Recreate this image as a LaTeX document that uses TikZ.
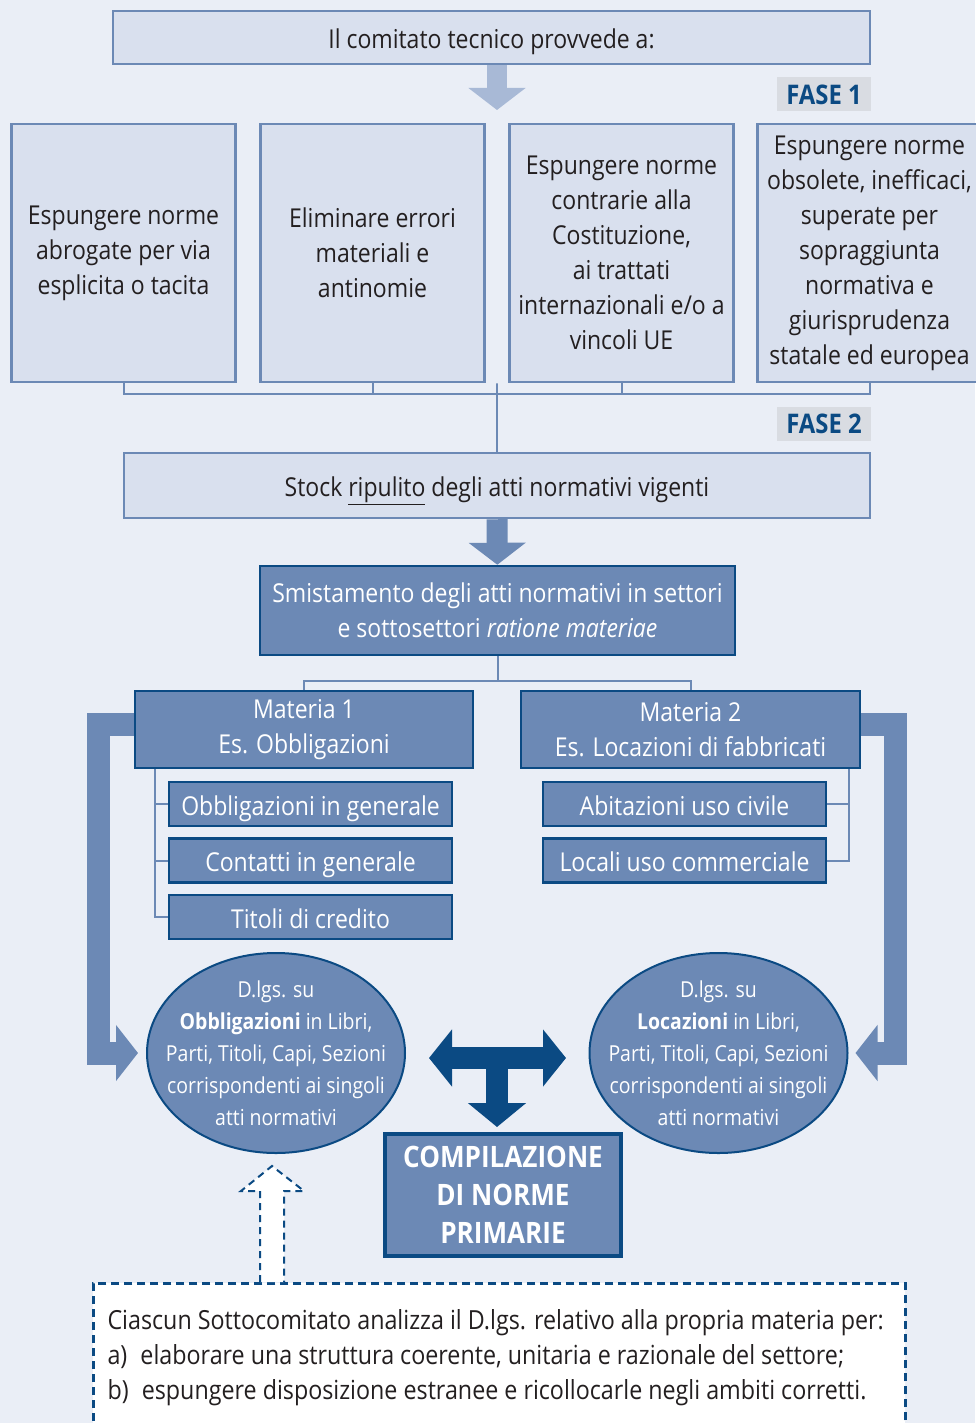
\documentclass[tikz,border=0pt]{standalone}
\usepackage{fontspec}
\setmainfont{Open Sans}[FakeStretch=0.885]
\usetikzlibrary{arrows.meta, positioning, calc, shapes.geometric}
\definecolor{cbg}{HTML}{EAEEF6}
\definecolor{clight}{HTML}{D9E0EE}
\definecolor{cmid}{HTML}{6C89B5}
\definecolor{cdark}{HTML}{0B4A83}
\definecolor{cpale}{HTML}{A8B9D6}
\definecolor{cgrey}{HTML}{D9DCE2}
\definecolor{ctext}{HTML}{231F20}
\tikzset{
  every picture/.style={x=1pt, y=-1pt},
  lightbox/.style={draw=cmid, fill=clight, line width=2.5pt, text=ctext, align=center, inner sep=4pt,
    font=\fontsize{26}{35}\selectfont},
  darkbox/.style={draw=cdark, fill=cmid, line width=2.5pt, text=white, align=center, inner sep=4pt,
    font=\fontsize{26}{35}\selectfont},
  oneline/.style={text height=28pt, text depth=6pt},
  subbox/.style={darkbox, oneline, minimum width=283pt, minimum height=44pt},
  blob/.style={ellipse, draw=cdark, fill=cmid, line width=2pt, inner sep=0pt,
    minimum width=258pt, minimum height=200pt},
  blobtext/.style={text=white, align=center, inner sep=0pt, font=\fontsize{22}{32}\selectfont},
  fase/.style={fill=cgrey, text=cdark, font=\fontsize{27}{30}\selectfont\bfseries, minimum width=94pt, minimum height=34pt},
  link/.style={draw=cmid, line width=2pt},
  palearrow/.style={-{Triangle[width=56pt, length=22pt]}, draw=cpale, line width=20pt},
  midarrow/.style={-{Triangle[width=56pt, length=22pt]}, draw=cmid, line width=21pt},
  bigarrow/.style={-{Triangle[width=55pt, length=22pt]}, draw=cmid, line width=23pt, line join=miter},
  tarrow/.style={{Triangle[width=56pt, length=23pt]}-{Triangle[width=56pt, length=23pt]}, draw=cdark, line width=22pt},
  stemarrow/.style={-{Triangle[width=57pt, length=24pt]}, draw=cdark, line width=22pt},
}

\begin{document}
\begin{tikzpicture}
  \useasboundingbox (0,0) rectangle (975,1423);
  \fill[cbg] (0,0) rectangle (975,1423);

  % fase 1
  \node[lightbox, oneline, minimum width=757pt, minimum height=53pt] (top) at (491.5,37.5) {Il comitato tecnico provvede a:};
  \node[fase] (fase1) at (824,94.5) {FASE 1};
  \coordinate (split) at (497,110);
  \draw[palearrow] (top.south -| split) -- (split);

  \node[lightbox, minimum width=224pt, minimum height=258pt] (b1) at (123.5,253) {Espungere norme\\abrogate per via\\esplicita o tacita};
  \node[lightbox, minimum width=224pt, minimum height=258pt, right=22.5pt of b1] (b2) {Eliminare errori\\materiali e\\antinomie};
  \node[lightbox, minimum width=224pt, minimum height=258pt, right=22.5pt of b2] (b3) {Espungere norme\\contrarie alla\\Costituzione,\\ai trattati\\internazionali e/o a\\vincoli UE};
  \node[lightbox, minimum width=224pt, minimum height=258pt, right=21.5pt of b3] (b4) {Espungere norme\\obsolete, inefficaci,\\superate per\\sopraggiunta\\normativa e\\giurisprudenza\\statale ed europea};

  \draw[link] (b1.south) -- ++(0,11) -| (b4.south);
  \draw[link] (b2.south) -- ++(0,11);
  \draw[link] (b3.south) -- ++(0,11);

  % fase 2
  \node[fase] (fase2) at (824,424) {FASE 2};
  \node[lightbox, oneline, minimum width=746pt, minimum height=65pt] (stock) at (497,485.5) {Stock \underline{ripulito} degli atti normativi vigenti};
  \draw[link] (stock.north) -- (stock.north |- b1.south) -- ++(0,11);

  \node[darkbox, minimum width=475pt, minimum height=89pt] (smist) at (497.5,610.5) {Smistamento degli atti normativi in settori\\e sottosettori \textit{ratione materiae}};
  \draw[midarrow] (stock) -- (smist);

  \node[darkbox, minimum width=338pt, minimum height=77pt] (m1) at (304,729.5) {Materia 1\\Es. Obbligazioni};
  \node[darkbox, minimum width=339pt, minimum height=77pt] (m2) at (690.5,729.5) {Materia 2\\Es. Locazioni di fabbricati};
  \draw[link] (smist.south) -- ++(0,25) coordinate (mj);
  \draw[link] (m1.north) |- (mj) -| (m2.north);

  \node[subbox] (s1) at (310.5,804) {Obbligazioni in generale};
  \node[subbox, below=10pt of s1] (s2) {Contatti in generale};
  \node[subbox, below=10pt of s2] (s3) {Titoli di credito};
  \draw[link] (s3.west) -| ([xshift=21pt]m1.south west);
  \draw[link] (s1.west) -- ++(-13,0);
  \draw[link] (s2.west) -- ++(-13,0);

  \node[subbox] (s4) at (684.5,804) {Abitazioni uso civile};
  \node[subbox, below=10pt of s4] (s5) {Locali uso commerciale};
  \draw[link] (s5.east) -| ([xshift=-12pt]m2.south east);
  \draw[link] (s4.east) -- ++(22,0);

  % decreti
  \node[blob] (e1) at (276,1053) {};
  \node[blobtext] (e1t) at (e1) {D.lgs. su\\\textbf{Obbligazioni} in Libri,\\Parti, Titoli, Capi, Sezioni\\corrispondenti ai singoli\\atti normativi};
  \node[blob] (e2) at (718.5,1053) {};
  \node[blobtext] (e2t) at (e2) {D.lgs. su\\\textbf{Locazioni} in Libri,\\Parti, Titoli, Capi, Sezioni\\corrispondenti ai singoli\\atti normativi};
  \draw[bigarrow, shorten >=8pt] ([yshift=5pt]m1.west) -- ++(-35,0) |- (e1.west);
  \draw[bigarrow, shorten >=7pt] ([yshift=5pt]m2.east) -- ++(34,0) |- (e2.east);

  \node[darkbox, line width=4pt, minimum width=236pt, minimum height=122pt,
    font=\fontsize{29.5}{38}\selectfont\bfseries] (comp) at (503,1195) {COMPILAZIONE\\DI NORME\\PRIMARIE};
  \coordinate (tl) at (429,1058);
  \coordinate (tr) at (566,1058);
  \coordinate (tj) at (497,1058);
  \draw[tarrow] (tl) -- (tr);
  \draw[stemarrow] (tj) -- ([yshift=5pt]tj |- comp.north);

  % sottocomitato
  \node[draw=cdark, fill=white, line width=2.5pt, dash pattern=on 8pt off 5pt,
    minimum width=812pt, minimum height=170pt, anchor=north west] (note) at (92,1282) {};
  \node[anchor=north west, align=left, text=ctext, font=\fontsize{26.3}{35}\selectfont] (notetxt) at (104,1306)
    {Ciascun Sottocomitato analizza il D.lgs. relativo alla propria materia per:\\
     a)\enspace elaborare una struttura coerente, unitaria e razionale del settore;\\
     b)\enspace espungere disposizione estranee e ricollocarle negli ambiti corretti.};
  \coordinate (up) at (272,1282);
  \filldraw[fill=white, draw=cdark, line width=2pt, dash pattern=on 7pt off 5pt]
    ([xshift=-12pt]up) -- ++(0,-91) -- ++(-19,0) -- ([yshift=116pt]up) -- ++(32,25) -- ++(-20,0) -- ([xshift=12pt]up);
\end{tikzpicture}
\end{document}
